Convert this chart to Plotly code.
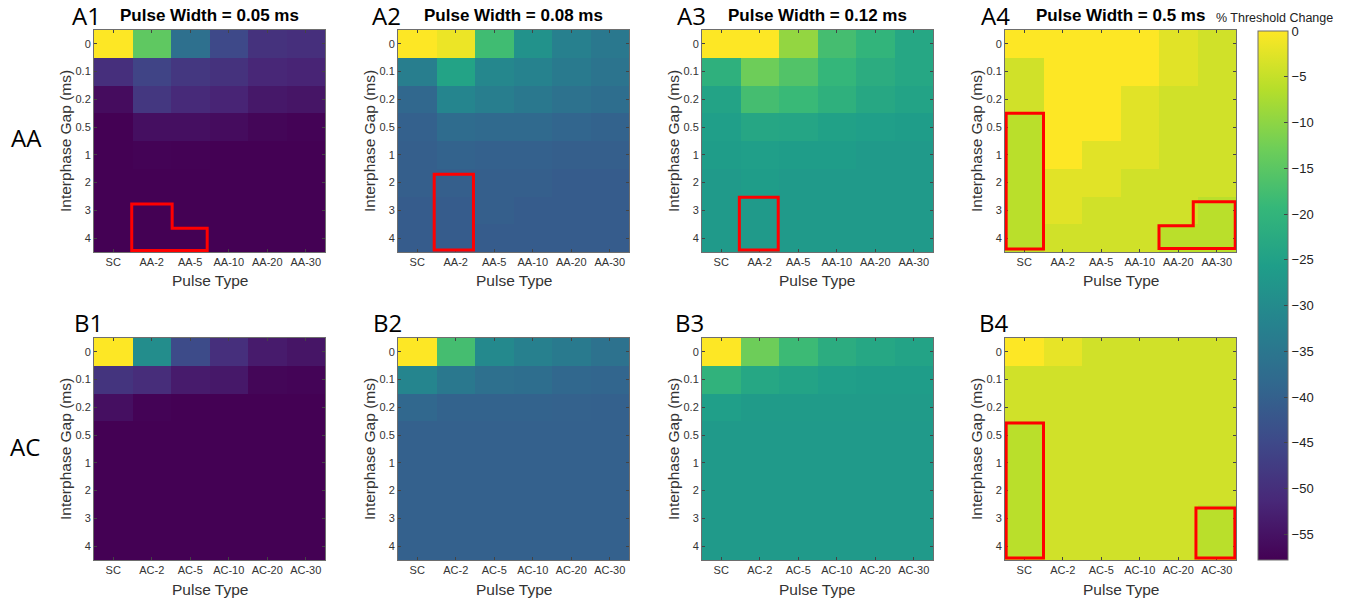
import plotly.graph_objects as go

W, H = 1346, 600

gaps = ["0", "0.1", "0.2", "0.5", "1", "2", "3", "4"]
aa_types = ["SC", "AA-2", "AA-5", "AA-10", "AA-20", "AA-30"]
ac_types = ["SC", "AC-2", "AC-5", "AC-10", "AC-20", "AC-30"]
pulse_widths = ["0.05", "0.08", "0.12", "0.5"]
cbar_ticks = [0, -5, -10, -15, -20, -25, -30, -35, -40, -45, -50, -55]

# % threshold change, rows = interphase gap, cols = pulse type
A1 = [[0, -14.5, -36.5, -45, -49.5, -50],
      [-50, -46, -48.5, -49.5, -51.5, -52],
      [-56, -48.5, -51, -52, -54, -54.5],
      [-57.8, -55.5, -55.5, -56, -57, -57.5],
      [-57.8, -57.5, -57.6, -57.8, -57.8, -57.8],
      [-57.8, -57.8, -57.8, -57.8, -57.8, -57.8],
      [-57.8, -57.8, -57.8, -57.8, -57.8, -57.8],
      [-57.8, -57.8, -57.8, -57.8, -57.8, -57.8]]
A2 = [[0, -1.5, -18, -28.5, -32.5, -34.5],
      [-33, -24.5, -31, -32, -34, -35.5],
      [-38.5, -31.5, -33, -34.7, -36, -37],
      [-40, -37.5, -38, -38, -39, -39.5],
      [-40.5, -39.5, -40, -40, -40.5, -40.5],
      [-40.5, -40.5, -40.5, -40.5, -41, -41],
      [-41, -41, -40.5, -41, -41, -41],
      [-41, -41, -41, -41, -41, -41]]
A3 = [[0, 0, -9.5, -17.5, -20, -23.5],
      [-21, -13, -16, -19.5, -22, -23.5],
      [-24.5, -17.5, -18.8, -21, -23.3, -24.5],
      [-25.5, -23.7, -24, -25, -25.5, -26],
      [-26, -25.5, -26, -26, -26.5, -26.5],
      [-26.5, -26, -26.5, -26.5, -26.5, -26.5],
      [-26.5, -26.5, -26.5, -26.5, -26.5, -26.5],
      [-26.5, -26.5, -26.5, -26.5, -26.5, -26.5]]
A4 = [[0, 0, 0, 0, -2.5, -4],
      [-4, 0, 0, 0, -2.5, -4],
      [-4, 0, 0, -2.5, -4, -4],
      [-6, 0, 0, -2.5, -4, -4],
      [-6, 0, -2.5, -2.5, -4, -4],
      [-6, -2.5, -2.5, -4, -4, -4],
      [-6, -2.5, -4, -4, -4, -6],
      [-6, -4, -4, -4, -6, -6]]
B1 = [[0, -29.5, -44.5, -50, -53.5, -54.5],
      [-49, -50.5, -53.5, -54, -57, -57.3],
      [-55.5, -57.5, -57.8, -57.8, -57.8, -57.8],
      [-57.8, -57.8, -57.8, -57.8, -57.8, -57.8],
      [-57.8, -57.8, -57.8, -57.8, -57.8, -57.8],
      [-57.8, -57.8, -57.8, -57.8, -57.8, -57.8],
      [-57.8, -57.8, -57.8, -57.8, -57.8, -57.8],
      [-57.8, -57.8, -57.8, -57.8, -57.8, -57.8]]
B2 = [[0, -17.5, -30.5, -32.5, -34, -36],
      [-31.5, -34.5, -36.5, -37, -38.5, -39],
      [-38.5, -39.5, -39.5, -39.5, -39.8, -40],
      [-40, -40, -40, -40, -40, -40],
      [-40, -40, -40, -40, -40, -40],
      [-40, -40, -40, -40, -40, -40],
      [-40, -40, -40, -40, -40, -40],
      [-40, -40, -40, -40, -40, -40]]
B3 = [[0, -13, -18.5, -22, -23.5, -24.5],
      [-20.5, -23.5, -24.5, -25.5, -26, -26],
      [-25.5, -26.3, -26.3, -26.3, -26.3, -26.3],
      [-26.5, -26.5, -26.5, -26.5, -26.5, -26.5],
      [-26.5, -26.5, -26.5, -26.5, -26.5, -26.5],
      [-26.5, -26.5, -26.5, -26.5, -26.5, -26.5],
      [-26.5, -26.5, -26.5, -26.5, -26.5, -26.5],
      [-26.5, -26.5, -26.5, -26.5, -26.5, -26.5]]
B4 = [[0, -2, -4, -4, -4, -4],
      [-4, -4, -4, -4, -4, -4],
      [-4, -4, -4, -4, -4, -4],
      [-6, -4, -4, -4, -4, -4],
      [-6, -4, -4, -4, -4, -4],
      [-6, -4, -4, -4, -4, -4],
      [-6, -4, -4, -4, -4, -6],
      [-6, -4, -4, -4, -4, -6]]

# significance outlines (cell-index coordinates: x = column, y = row)
outlines = {
    0: [[(0.48, 5.77), (1.53, 5.77), (1.53, 6.64), (2.44, 6.64), (2.44, 7.45), (0.48, 7.45)]],
    1: [[(0.44, 4.70), (1.46, 4.70), (1.46, 7.43), (0.44, 7.43)]],
    2: [[(0.47, 5.53), (1.48, 5.53), (1.48, 7.43), (0.47, 7.43)]],
    3: [[(-0.47, 2.50), (0.50, 2.50), (0.50, 7.39), (-0.47, 7.39)],
        [(3.50, 6.55), (4.39, 6.55), (4.39, 5.69), (5.48, 5.69), (5.48, 7.37), (3.50, 7.37)]],
    7: [[(-0.47, 2.56), (0.50, 2.56), (0.50, 7.43), (-0.47, 7.43)],
        [(4.46, 5.63), (5.47, 5.63), (5.47, 7.43), (4.46, 7.43)]],
}

panels = [A1, A2, A3, A4, B1, B2, B3, B4]
panel_labels = ["A1", "A2", "A3", "A4", "B1", "B2", "B3", "B4"]
label_pos = [(86, 15), (387, 15), (692, 15), (995, 15),
             (88, 322), (388, 322), (690, 322), (994, 322)]

col_left = [94, 398, 702, 1005]
pw = 231
rows_y = [(30, 252), (338, 560)]

FONT = "Liberation Sans, Arial, sans-serif"
LFONT = "Open Sans, sans-serif"

def px(x):
    return x / W

def py(y):
    return 1 - y / H

fig = go.Figure()
layout = {}
shapes = []
annotations = []

for i, z in enumerate(panels):
    r, c = divmod(i, 4)
    cats = aa_types if r == 0 else ac_types
    n = i + 1
    xa = "x" if n == 1 else f"x{n}"
    ya = "y" if n == 1 else f"y{n}"
    fig.add_trace(go.Heatmap(z=z, x=cats, y=gaps, coloraxis="coloraxis",
                             xaxis=xa, yaxis=ya, hoverongaps=False))
    x0, x1 = col_left[c], col_left[c] + pw
    y0, y1 = rows_y[r]
    axis_common = dict(showline=True, mirror="ticks", linecolor="#6e6e6e", linewidth=1,
                       ticks="inside", ticklen=3, tickcolor="#444", showgrid=False,
                       zeroline=False, tickfont=dict(family=FONT, size=11, color="#333"),
                       fixedrange=True)
    layout["xaxis" if n == 1 else f"xaxis{n}"] = dict(
        axis_common, domain=[px(x0), px(x1)], anchor=ya, type="category",
        range=[-0.5, 5.5])
    layout["yaxis" if n == 1 else f"yaxis{n}"] = dict(
        axis_common, domain=[py(y1), py(y0)], anchor=xa, type="category",
        range=[7.5, -0.5])
    cx = (x0 + x1) / 2
    cy = (y0 + y1) / 2
    # axis titles
    annotations.append(dict(text="Interphase Gap (ms)", x=px(x0 - 29), y=py(cy),
                            xref="paper", yref="paper", textangle=-90, showarrow=False,
                            xanchor="center", yanchor="middle",
                            font=dict(family=FONT, size=15.5, color="#333")))
    annotations.append(dict(text="Pulse Type", x=px(cx), y=py(y1 + 29),
                            xref="paper", yref="paper", showarrow=False,
                            xanchor="center", yanchor="middle",
                            font=dict(family=FONT, size=15.5, color="#333")))
    # panel label
    lx, ly = label_pos[i]
    annotations.append(dict(text=panel_labels[i], x=px(lx), y=py(ly), xref="paper",
                            yref="paper", showarrow=False, xanchor="center",
                            yanchor="middle", font=dict(family=LFONT, size=24, color="#000")))
    if r == 0:
        annotations.append(dict(text=f"<b>Pulse Width = {pulse_widths[c]} ms</b>",
                                x=px(cx), y=py(16), xref="paper", yref="paper",
                                showarrow=False, xanchor="center", yanchor="middle",
                                font=dict(family=FONT, size=17, color="#000")))
    for poly in outlines.get(i, []):
        path = "M " + " L ".join(f"{a},{b}" for a, b in poly) + " Z"
        shapes.append(dict(type="path", path=path, xref=xa, yref=ya,
                           line=dict(color="#ff0000", width=3), layer="above"))

annotations.append(dict(text="AA", x=px(26), y=py(137.5), xref="paper", yref="paper",
                        showarrow=False, xanchor="center", yanchor="middle",
                        font=dict(family=LFONT, size=24, color="#000")))
annotations.append(dict(text="AC", x=px(25), y=py(446), xref="paper", yref="paper",
                        showarrow=False, xanchor="center", yanchor="middle",
                        font=dict(family=LFONT, size=24, color="#000")))
annotations.append(dict(text="% Threshold Change", x=px(1274), y=py(18), xref="paper",
                        yref="paper", showarrow=False, xanchor="center", yanchor="middle",
                        font=dict(family=FONT, size=12.5, color="#222")))

fig.update_layout(
    width=W, height=H, margin=dict(l=0, r=0, t=0, b=0),
    paper_bgcolor="white", plot_bgcolor="white", showlegend=False,
    coloraxis=dict(colorscale="Viridis", cmin=-57.8, cmax=0,
                   colorbar=dict(x=px(1258), xanchor="left", y=py(31), yanchor="top",
                                 lenmode="pixels", len=529, thicknessmode="pixels",
                                 thickness=30, xpad=0, ypad=0, outlinewidth=1,
                                 outlinecolor="#6e6e6e", tickvals=cbar_ticks,
                                 ticks="inside", ticklen=4, tickcolor="#444",
                                 tickfont=dict(family=FONT, size=13, color="#222"))),
    shapes=shapes, annotations=annotations, **layout)

fig.write_html("out.html")
